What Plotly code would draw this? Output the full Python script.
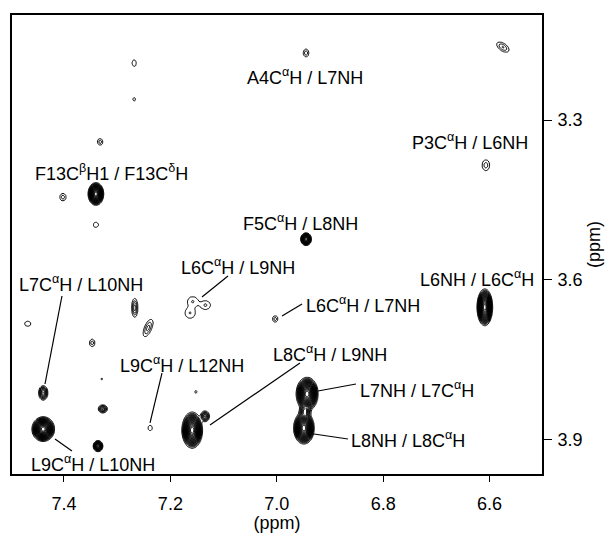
import numpy as np
import plotly.graph_objects as go

# ---- peak list (ppm); widths are Gaussian sigmas in ppm, angle in degrees (screen) ----
peak_x = [6.945, 6.575, 6.607, 7.268, 7.268, 7.332, 7.340, 7.402, 7.340, 6.945,
          7.158, 7.134, 7.163, 7.003, 7.468, 7.267, 7.242, 7.347, 6.609, 7.329,
          7.152, 7.439, 7.327, 7.238, 7.439, 7.336, 7.159, 7.135, 6.943, 6.949, 6.947]
peak_y = [3.174, 3.163, 3.385, 3.193, 3.261, 3.341, 3.439, 3.445, 3.497, 3.524,
          3.641, 3.648, 3.663, 3.674, 3.683, 3.653, 3.691, 3.719, 3.652, 3.787,
          3.811, 3.813, 3.843, 3.879, 3.881, 3.913, 3.883, 3.857, 3.815, 3.879, 3.848]
peak_amp = [2.8, 3.2, 2.6, 1.8, 1.5, 2.6, 150, 2.6, 2.0, 60,
            2.1, 2.2, 2.1, 2.6, 1.6, 5.0, 3.5, 2.6, 150, 1.3,
            1.4, 12.0, 8.0, 1.8, 150, 40, 150, 10.0, 150, 150, 10.0]
peak_sx = [0.0038, 0.0088, 0.0053, 0.0038, 0.0030, 0.0038, 0.0047, 0.0044, 0.0042, 0.0036,
           0.0080, 0.0075, 0.0080, 0.0038, 0.0062, 0.0034, 0.0112, 0.0038, 0.0047, 0.0026,
           0.0026, 0.0040, 0.0043, 0.0039, 0.0068, 0.0034, 0.0062, 0.0040, 0.0066, 0.0062, 0.0050]
peak_sy = [0.0052, 0.0048, 0.0074, 0.0058, 0.0036, 0.0046, 0.0068, 0.0052, 0.0042, 0.0042,
           0.0075, 0.0066, 0.0080, 0.0044, 0.0052, 0.0100, 0.0045, 0.0052, 0.0110, 0.0026,
           0.0037, 0.0062, 0.0038, 0.0048, 0.0074, 0.0039, 0.0108, 0.0048, 0.0100, 0.0096, 0.0060]
peak_angle = [0, 35, 0, 0, 0, 0, 0, 0, 0, 0,
              0, 0, 0, 0, 0, 0, -67, 0, 0, 0,
              0, 0, 0, 0, 0, 0, 0, 0, 0, 0, 0]

# ---- labels ----
label_text = ["A4C<sup>α</sup>H / L7NH", "P3C<sup>α</sup>H / L6NH",
              "F13C<sup>β</sup>H1 / F13C<sup>δ</sup>H", "F5C<sup>α</sup>H / L8NH",
              "L6C<sup>α</sup>H / L9NH", "L6C<sup>α</sup>H / L7NH",
              "L7C<sup>α</sup>H / L10NH", "L6NH / L6C<sup>α</sup>H",
              "L9C<sup>α</sup>H / L12NH", "L8C<sup>α</sup>H / L9NH",
              "L7NH / L7C<sup>α</sup>H", "L8NH / L8C<sup>α</sup>H",
              "L9C<sup>α</sup>H / L10NH"]
label_x = [6.947, 6.637, 7.310, 6.955, 7.073, 6.838, 7.368, 6.624, 7.178, 6.900, 6.736, 6.753, 7.345]
label_y = [3.219, 3.341, 3.398, 3.492, 3.576, 3.646, 3.608, 3.597, 3.759, 3.738, 3.806, 3.900, 3.945]

# ---- leader lines (start -> end, ppm) ----
lead_x0 = [7.4038, 7.0917, 6.9526, 7.2158, 7.4169, 7.1256, 6.9226, 6.9301]
lead_y0 = [3.6308, 3.5932, 3.6459, 3.7756, 3.8996, 3.8733, 3.8094, 3.8902]
lead_x1 = [7.4357, 7.1406, 6.9902, 7.2383, 7.3850, 6.9564, 6.8511, 6.8662]
lead_y1 = [3.7962, 3.6327, 3.6684, 3.8695, 3.9222, 3.7568, 3.7962, 3.8996]

x_ticks = [7.4, 7.2, 7.0, 6.8, 6.6]
y_ticks = [3.3, 3.6, 3.9]
x_range = [7.4977, 6.5015]
y_range = [3.9654, 3.1026]

# ---- build spectrum grid from peak list ----
step = 0.0018
gx = np.arange(6.50, 7.50 + step / 2, step)
gy = np.arange(3.10, 3.97 + step / 2, step)
X, Y = np.meshgrid(gx, gy)
Z = np.zeros_like(X)
for x0, y0, a, sx, sy, ang in zip(peak_x, peak_y, peak_amp, peak_sx, peak_sy, peak_angle):
    u = -(X - x0)   # screen right
    v = (Y - y0)    # screen down
    t = np.deg2rad(ang)
    up = u * np.cos(t) + v * np.sin(t)
    vp = -u * np.sin(t) + v * np.cos(t)
    Z += a * np.exp(-0.5 * ((up / sx) ** 2 + (vp / sy) ** 2))
LZ = np.log(Z + 1e-9)
# contour-level spacing: sparse for weak signals, dense for strong ones
W = np.where(LZ > 0, np.maximum(LZ, 0) ** 1.6, LZ)
W = np.round(np.maximum(W, -1.0), 3)

FONT = "Liberation Sans, Arial, Helvetica, sans-serif"

fig = go.Figure()
fig.add_trace(go.Contour(
    x=gx, y=gy, z=W,
    contours=dict(start=0.0, end=13.5, size=0.6, coloring="lines"),
    colorscale=[[0, "black"], [1, "black"]],
    line=dict(width=1.0, smoothing=1),
    showscale=False, hoverinfo="skip",
))

lx, ly = [], []
for a, b, c, d in zip(lead_x0, lead_y0, lead_x1, lead_y1):
    lx += [a, c, None]
    ly += [b, d, None]
fig.add_trace(go.Scatter(x=lx, y=ly, mode="lines", line=dict(color="black", width=1.2),
                         hoverinfo="skip", showlegend=False))

for t, x, y in zip(label_text, label_x, label_y):
    fig.add_annotation(x=x, y=y, xref="x", yref="y", text=t, showarrow=False,
                       font=dict(family=FONT, size=18, color="black"),
                       xanchor="center", yanchor="middle")

fig.update_layout(
    width=612, height=533,
    margin=dict(l=12, r=70, t=15, b=59, autoexpand=False),
    paper_bgcolor="white", plot_bgcolor="white",
    showlegend=False,
    font=dict(family=FONT, size=18, color="black"),
)
fig.update_xaxes(range=x_range, tickvals=x_ticks, ticktext=[f"{v:.1f}" for v in x_ticks],
                 ticks="outside", ticklen=6, tickwidth=1, tickcolor="black",
                 ticklabelstandoff=6, automargin=False,
                 showline=True, linecolor="black", linewidth=2, mirror=True,
                 showgrid=False, zeroline=False,
                 title=dict(text="(ppm)", standoff=0, font=dict(size=18)))
fig.update_yaxes(range=y_range, side="right", tickvals=y_ticks,
                 ticktext=[f"{v:.1f}" for v in y_ticks],
                 ticks="outside", ticklen=8, tickwidth=1, tickcolor="black",
                 ticklabelstandoff=2, automargin=False,
                 showline=True, linecolor="black", linewidth=2, mirror=True,
                 showgrid=False, zeroline=False,
                 title=dict(text="(ppm)", standoff=6, font=dict(size=18)))

fig.write_html("out.html")
